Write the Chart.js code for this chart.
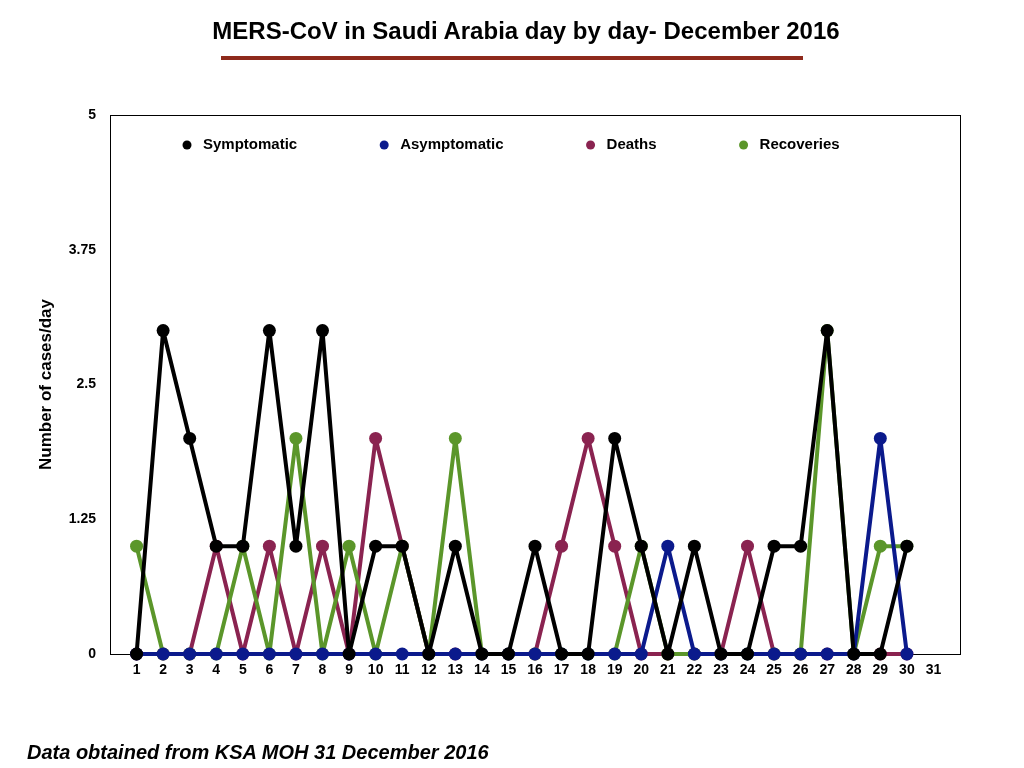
<!DOCTYPE html>
<html lang="en">
<head>
    <meta charset="UTF-8">
    <title>MERS-CoV in Saudi Arabia day by day- December 2016</title>
    <script src="https://cdn.jsdelivr.net/npm/chart.js"></script>
    <style>
        body { margin: 0; background: #fff; font-family: "Liberation Sans", Arial, sans-serif; }
        #wrap { position: relative; width: 1024px; height: 768px; overflow: hidden; }
        #title { position: absolute; left: 26px; width: 1000px; top: 16px; text-align: center;
                 font-weight: bold; font-size: 24px; line-height: 30px; color: #000; }
        #bar { position: absolute; left: 221px; width: 582px; top: 56px; height: 4px; background: #8e2a1c; }
        #note { position: absolute; left: 27px; top: 739px; font-weight: bold; font-style: italic;
                font-size: 20px; line-height: 26px; color: #000; }
        canvas { position: absolute; left: 0; top: 0; }
    </style>
</head>
<body>
<div id="wrap">
    <canvas id="mersChart" width="1024" height="768"></canvas>
    <div id="title">MERS-CoV in Saudi Arabia day by day- December 2016</div>
    <div id="bar"></div>
    <div id="note">Data obtained from KSA MOH 31 December 2016</div>
</div>
<script>
    // days of December 2016 with data
    const days = [1, 2, 3, 4, 5, 6, 7, 8, 9, 10, 11, 12, 13, 14, 15,
                  16, 17, 18, 19, 20, 21, 22, 23, 24, 25, 26, 27, 28, 29, 30];

    const symptomatic  = [0, 3, 2, 1, 1, 3, 1, 3, 0, 1, 1, 0, 1, 0, 0,
                          1, 0, 0, 2, 1, 0, 1, 0, 0, 1, 1, 3, 0, 0, 1];
    const asymptomatic = [0, 0, 0, 0, 0, 0, 0, 0, 0, 0, 0, 0, 0, 0, 0,
                          0, 0, 0, 0, 0, 1, 0, 0, 0, 0, 0, 0, 0, 2, 0];
    const deaths       = [0, 0, 0, 1, 0, 1, 0, 1, 0, 2, 1, 0, 0, 0, 0,
                          0, 1, 2, 1, 0, 0, 0, 0, 1, 0, 0, 0, 0, 0, 0];
    const recoveries   = [1, 0, 0, 0, 1, 0, 2, 0, 1, 0, 1, 0, 2, 0, 0,
                          0, 0, 0, 0, 1, 0, 0, 0, 0, 0, 0, 3, 0, 1, 1];

    const yTicks = [0, 1.25, 2.5, 3.75, 5];

    const boldFont = (size) => ({ family: '"Liberation Sans", Arial, sans-serif', size: size, weight: 'bold' });

    function series(label, data, color, order) {
        return {
            label: label,
            data: data,
            borderColor: color,
            backgroundColor: color,
            pointBackgroundColor: color,
            pointBorderColor: color,
            pointBorderWidth: 0,
            pointRadius: 6.5,
            borderWidth: 4,
            borderJoinStyle: 'round',
            tension: 0,
            clip: false,
            order: order
        };
    }

    // black frame round the plot area
    const frame = {
        id: 'frame',
        beforeDatasetsDraw(chart) {
            const a = chart.chartArea, ctx = chart.ctx;
            ctx.save();
            ctx.strokeStyle = '#000';
            ctx.lineWidth = 1;
            ctx.strokeRect(a.left + 0.5, a.top + 0.5, a.right - a.left, a.bottom - a.top);
            ctx.restore();
        }
    };

    // legend drawn inside the plot, in dataset order
    const insideLegend = {
        id: 'insideLegend',
        afterDraw(chart) {
            const a = chart.chartArea, ctx = chart.ctx;
            ctx.save();
            ctx.font = 'bold 15px "Liberation Sans", Arial, sans-serif';
            ctx.textBaseline = 'middle';
            let x = a.left + 77;
            const y = a.top + 30;
            chart.data.datasets.forEach(ds => {
                ctx.fillStyle = ds.borderColor;
                ctx.beginPath();
                ctx.arc(x, y, 4.5, 0, Math.PI * 2);
                ctx.fill();
                ctx.fillStyle = '#000';
                ctx.fillText(ds.label, x + 16, y);
                x += 16 + ctx.measureText(ds.label).width + 87;
            });
            ctx.restore();
        }
    };

    const ctx = document.getElementById('mersChart').getContext('2d');
    new Chart(ctx, {
        type: 'line',
        data: {
            labels: days,
            datasets: [
                series('Symptomatic', symptomatic, '#000000', 0),
                series('Asymptomatic', asymptomatic, '#0b1a8c', 1),
                series('Deaths', deaths, '#8a2350', 3),
                series('Recoveries', recoveries, '#5b962a', 2)
            ]
        },
        options: {
            responsive: false,
            animation: false,
            layout: { padding: { left: 0, top: 115, right: 64, bottom: 84 } },
            plugins: {
                legend: { display: false },
                title: { display: false },
                tooltip: { enabled: false }
            },
            scales: {
                x: {
                    type: 'linear',
                    min: 0,
                    max: 32,
                    grid: { display: false, drawTicks: false },
                    border: { display: false },
                    afterFit(scale) { scale.height = 30; },
                    ticks: {
                        stepSize: 1,
                        autoSkip: false,
                        maxRotation: 0,
                        padding: 8,
                        color: '#000',
                        font: boldFont(14),
                        callback: (v) => (v >= 1 && v <= 31 ? v : '')
                    }
                },
                y: {
                    min: 0,
                    max: 5,
                    grid: { display: false, drawTicks: false },
                    border: { display: false },
                    afterFit(scale) { scale.width = 110; },
                    afterBuildTicks(scale) { scale.ticks = yTicks.map(v => ({ value: v })); },
                    ticks: {
                        padding: 14,
                        color: '#000',
                        font: boldFont(14),
                        callback: (v) => String(v)
                    },
                    title: {
                        display: true,
                        text: 'Number of cases/day',
                        color: '#000',
                        font: boldFont(17),
                        padding: { top: 36, bottom: 0 }
                    }
                }
            }
        },
        plugins: [frame, insideLegend]
    });
</script>
</body>
</html>
